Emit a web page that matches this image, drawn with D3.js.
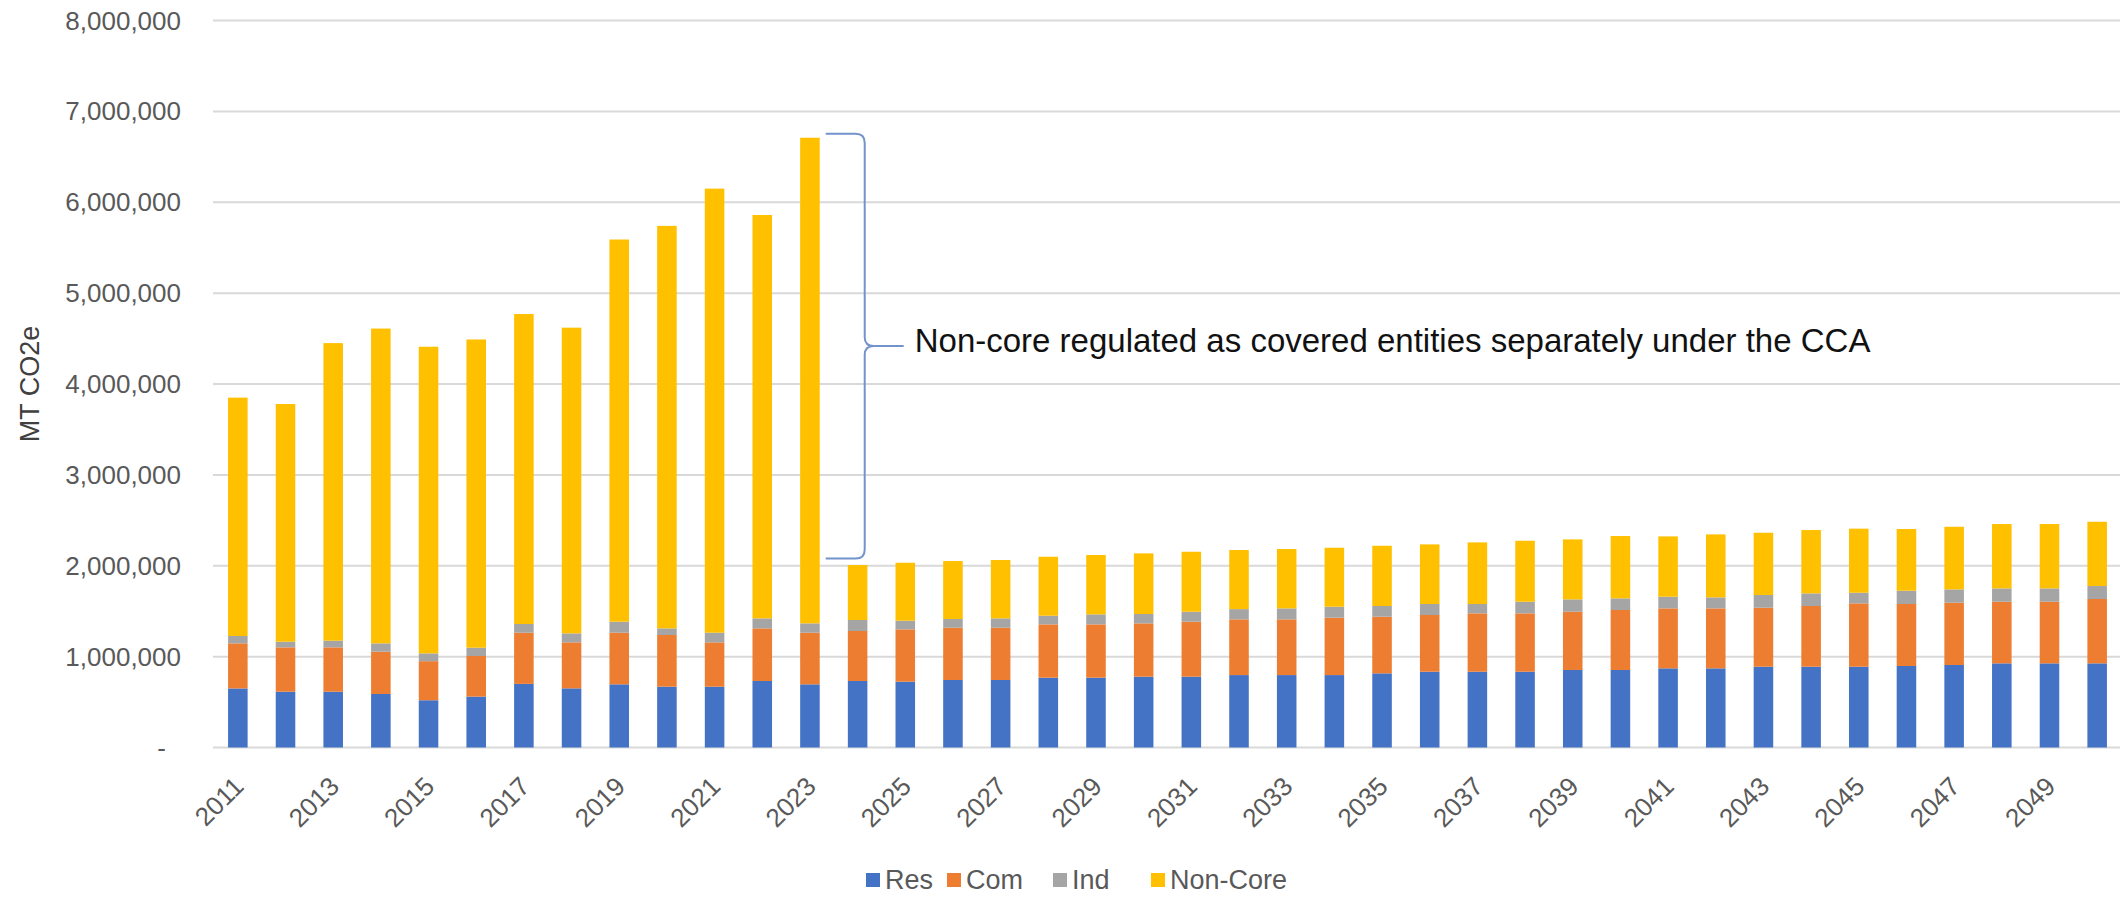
<!DOCTYPE html>
<html>
<head>
<meta charset="utf-8">
<script src="https://cdn.jsdelivr.net/npm/d3@7"></script>
<style>
  html, body { margin: 0; padding: 0; background: #ffffff; }
  svg { display: block; }
  text { font-family: "Liberation Sans", Arial, sans-serif; }
</style>
</head>
<body>
<svg id="chart" width="2120" height="898"></svg>
<script>
// ---------- DATA ----------
const years = d3.range(2011, 2051);
const seriesNames = ["Res", "Com", "Ind", "Non-Core"];
const res = [650000, 614000, 614000, 589000, 520000, 560000, 700000, 651000, 695000, 669000,
             669000, 732000, 695000, 732000, 724000, 743000, 743000, 768000, 768000, 779000,
             779000, 797000, 797000, 797000, 816000, 834000, 834000, 834000, 853000, 853000,
             871000, 871000, 889000, 889000, 889000, 897000, 908000, 926000, 926000, 926000];
const com = [496000, 488000, 488000, 465000, 430000, 447000, 563000, 506000, 568000, 569000,
             488000, 579000, 568000, 550000, 576000, 575000, 575000, 587000, 587000, 587000,
             605000, 613000, 613000, 631000, 623000, 624000, 642000, 642000, 641000, 660000,
             660000, 660000, 649000, 668000, 697000, 682000, 685000, 678000, 678000, 708000];
const ind = [81000, 62000, 73000, 92000, 86000, 91000, 96000, 99000, 121000, 73000,
             106000, 110000, 103000, 121000, 95000, 96000, 103000, 95000, 110000, 103000,
             110000, 113000, 121000, 121000, 118000, 121000, 103000, 128000, 136000, 128000,
             128000, 121000, 140000, 139000, 117000, 146000, 147000, 147000, 147000, 143000];
const nonCore = [2623000, 2616000, 3275000, 3464000, 3374000, 3392000, 3411000, 3364000, 4206000, 4429000,
                 4887000, 4439000, 5344000, 605000, 638000, 638000, 642000, 649000, 653000, 667000,
                 660000, 650000, 653000, 649000, 663000, 656000, 678000, 671000, 660000, 686000,
                 664000, 693000, 685000, 697000, 705000, 679000, 689000, 708000, 708000, 707000];
const yTicks = [0, 1000000, 2000000, 3000000, 4000000, 5000000, 6000000, 7000000, 8000000];
const xTickYears = d3.range(2011, 2051, 2);
const annotationText = "Non-core regulated as covered entities separately under the CCA";
const annotationYear = 2023;
const annotationBottom = 2080000;
const colors = ["#4472C4", "#ED7D31", "#A5A5A5", "#FFC000"];

// ---------- BUILD ----------
const rows = years.map((y, i) => ({ year: y, "Res": res[i], "Com": com[i], "Ind": ind[i], "Non-Core": nonCore[i] }));
const stack = d3.stack().keys(seriesNames)(rows);

const svg = d3.select("#chart");
const x = d3.scaleBand().domain(years).range([214, 2121]).paddingInner(0.59).paddingOuter(0.295);
const y = d3.scaleLinear().domain([0, 8000000]).range([747.5, 20.5]);
const color = d3.scaleOrdinal().domain(seriesNames).range(colors);

// gridlines
svg.append("g").selectAll("line").data(yTicks).join("line")
  .attr("x1", 213).attr("x2", 2120)
  .attr("y1", d => y(d)).attr("y2", d => y(d))
  .attr("stroke", "#d9d9d9").attr("stroke-width", 2);

// y axis labels
const fmt = d3.format(",");
svg.append("g").selectAll("text").data(yTicks).join("text")
  .attr("x", d => d === 0 ? 166 : 181)
  .attr("y", d => y(d))
  .attr("dy", "0.35em")
  .attr("text-anchor", "end")
  .attr("font-size", 26)
  .attr("fill", "#595959")
  .text(d => d === 0 ? "-" : fmt(d));

// y title
svg.append("text")
  .attr("transform", "translate(39,384) rotate(-90)")
  .attr("text-anchor", "middle")
  .attr("font-size", 27)
  .attr("fill", "#404040")
  .text("MT CO2e");

// bars
svg.append("g").selectAll("g").data(stack).join("g")
  .attr("fill", d => color(d.key))
  .selectAll("rect").data(d => d).join("rect")
  .attr("x", d => x(d.data.year))
  .attr("width", x.bandwidth())
  .attr("y", d => y(d[1]))
  .attr("height", d => y(d[0]) - y(d[1]));

// x labels
svg.append("g").selectAll("text").data(xTickYears).join("text")
  .attr("transform", d => `translate(${x(d) + x.bandwidth() / 2 + 1},${y(0) + 34}) rotate(-45)`)
  .attr("dy", "0.35em")
  .attr("text-anchor", "end")
  .attr("font-size", 26)
  .attr("fill", "#595959")
  .text(d => d);

// annotation bracket
const ai = years.indexOf(annotationYear);
const topV = res[ai] + com[ai] + ind[ai] + nonCore[ai];
const yTop = y(topV) - 4;
const yBot = y(annotationBottom);
const yMid = (yTop + yBot) / 2;
const xL = x(annotationYear) + x.bandwidth() + 6;
const xS = xL + 39;
const xT = xS + 39;
const r = 9;
const p = d3.path();
p.moveTo(xL, yTop);
p.lineTo(xS - r, yTop);
p.quadraticCurveTo(xS, yTop, xS, yTop + r);
p.lineTo(xS, yMid - r);
p.quadraticCurveTo(xS, yMid, xS + r, yMid);
p.lineTo(xT, yMid);
p.moveTo(xS + r, yMid);
p.quadraticCurveTo(xS, yMid, xS, yMid + r);
p.lineTo(xS, yBot - r);
p.quadraticCurveTo(xS, yBot, xS - r, yBot);
p.lineTo(xL, yBot);
svg.append("path").attr("d", p.toString())
  .attr("fill", "none").attr("stroke", "#7393cc").attr("stroke-width", 2);

svg.append("text")
  .attr("x", xT + 11).attr("y", yMid + 6)
  .attr("font-size", 33)
  .attr("fill", "#111111")
  .text(annotationText);

const legendStarts = [866, 947, 1053, 1151];
const ly = 880;
const legend = svg.append("g").selectAll("g").data(seriesNames).join("g")
  .attr("transform", (d, i) => `translate(${legendStarts[i]},${ly})`);
legend.append("rect").attr("x", 0).attr("y", -7).attr("width", 14).attr("height", 14)
  .attr("fill", d => color(d));
legend.append("text").attr("x", 19).attr("y", 0).attr("dy", "0.35em")
  .attr("font-size", 27).attr("fill", "#595959").text(d => d);
</script>
</body>
</html>
